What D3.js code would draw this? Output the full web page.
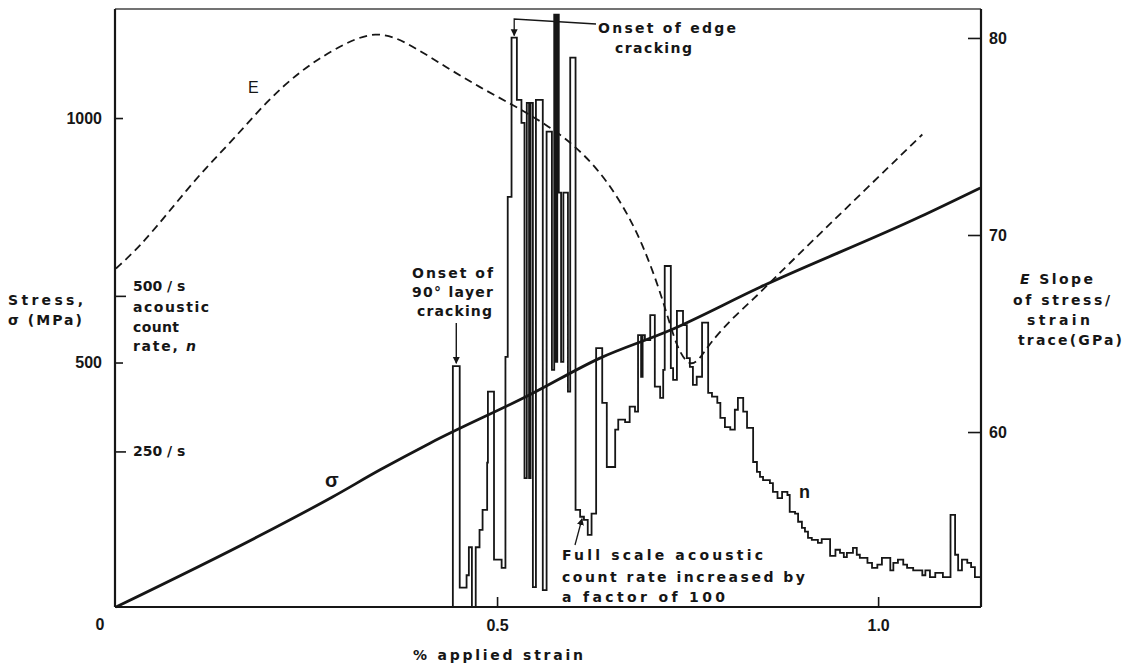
<!DOCTYPE html>
<html>
<head>
<meta charset="utf-8">
<script src="https://cdn.jsdelivr.net/npm/d3@7/dist/d3.min.js"></script>
<style>
  body { margin: 0; background: #fff; }
  svg { display: block; }
  text { font-family: "Liberation Sans", Arial, sans-serif; fill: #161616; }
  .note { font-family: "DejaVu Sans", sans-serif; font-weight: bold; font-size: 14px; }
</style>
</head>
<body>
<div id="chart"></div>
<script>
// stress / strain trace (MPa vs % strain)
const stressStrain = [0, 0.185, 0.284, 0.346, 0.412, 0.543, 0.635, 0.727, 0.845, 1.055, 1.134];
const stressValues = [0, 143, 225, 280, 335, 434, 509, 566, 654, 798, 857];

// E, slope of the stress/strain trace (GPa)
const slopeStrain = [0, 0.031, 0.070, 0.110, 0.153, 0.198, 0.241, 0.284, 0.342, 0.389, 0.434, 0.477,
  0.521, 0.565, 0.600, 0.631, 0.661, 0.691, 0.718, 0.736, 0.753, 0.766, 0.779, 0.809, 0.841, 0.871, 1.058];
const slopeValues = [68.3, 69.4, 71.2, 73.1, 74.8, 76.8, 78.3, 79.4, 80.5, 79.6, 78.5, 77.5,
  76.6, 75.6, 74.6, 73.4, 71.8, 69.6, 66.7, 64.2, 63.3, 63.7, 64.5, 65.8, 66.9, 68.1, 75.1];

// acoustic count rate n (counts/s), step histogram: bin start strain + rate
const binStart = [0.442, 0.451, 0.460, 0.463, 0.467, 0.472, 0.477, 0.481, 0.487, 0.488, 0.496, 0.506,
  0.511, 0.514, 0.519, 0.526, 0.532, 0.536, 0.539, 0.542, 0.544, 0.547, 0.551, 0.560, 0.565, 0.572,
  0.575, 0.577, 0.579, 0.581, 0.584, 0.587, 0.593, 0.596, 0.603, 0.609, 0.614, 0.619, 0.624, 0.630,
  0.638, 0.644, 0.655, 0.659, 0.668, 0.674, 0.681, 0.685, 0.689, 0.691, 0.694, 0.701, 0.707, 0.714,
  0.718, 0.720, 0.728, 0.731, 0.736, 0.744, 0.749, 0.753, 0.757, 0.762, 0.769, 0.777, 0.782, 0.789,
  0.793, 0.799, 0.806, 0.812, 0.816, 0.823, 0.828, 0.836, 0.841, 0.845, 0.849, 0.858, 0.862, 0.868,
  0.874, 0.881, 0.884, 0.891, 0.895, 0.900, 0.904, 0.908, 0.913, 0.921, 0.926, 0.937, 0.944, 0.950,
  0.955, 0.959, 0.967, 0.972, 0.976, 0.986, 0.992, 0.999, 1.005, 1.016, 1.020, 1.026, 1.033, 1.038,
  1.046, 1.058, 1.062, 1.068, 1.075, 1.085, 1.095, 1.101, 1.105, 1.110, 1.117, 1.122, 1.127];
const binRate = [387, 31, 51, 96, 0, 96, 124, 156, 232, 346, 76, 63,
  402, 659, 915, 815, 778, 207, 810, 207, 810, 32, 815, 27, 764, 381,
  952, 394, 952, 666, 394, 666, 346, 883, 156, 145, 140, 116, 150, 416,
  328, 225, 285, 301, 297, 322, 314, 437, 370, 437, 429, 469, 354, 336,
  381, 548, 384, 365, 476, 453, 400, 386, 357, 370, 457, 344, 338, 328,
  304, 289, 285, 317, 336, 314, 288, 233, 217, 209, 204, 199, 185, 175,
  185, 180, 153, 150, 137, 127, 121, 111, 108, 103, 109, 82, 92, 87,
  80, 87, 95, 84, 79, 71, 63, 68, 79, 59, 71, 76, 68, 63,
  59, 51, 59, 48, 55, 48, 148, 84, 59, 76, 71, 64, 48];
const binEnd = 1.135;

const stressTicks = [500, 1000];
const rateTicks = [250, 500];
const slopeTicks = [60, 70, 80];
const strainTicks = [0.5, 1.0];

const width = 1134, height = 666;
const plotLeft = 115, plotRight = 981, plotTop = 9, plotBottom = 607;

const svg = d3.select('#chart').append('svg')
  .attr('width', width)
  .attr('height', height);

const x = d3.scaleLinear().domain([0, 1.135]).range([116, plotRight]);
const yStress = d3.scaleLinear().domain([0, 1223]).range([plotBottom, plotTop]);
const yRate = d3.scaleLinear().domain([0, 961]).range([plotBottom, plotTop]);
const ySlope = d3.scaleLinear().domain([51.12, 81.47]).range([plotBottom, plotTop]);

const ink = '#161616';

// frame
svg.append('line').attr('x1', plotLeft).attr('x2', plotRight).attr('y1', plotTop).attr('y2', plotTop)
  .style('stroke', '#444').style('stroke-width', 1.4);
svg.append('line').attr('x1', plotLeft).attr('x2', plotLeft).attr('y1', plotTop).attr('y2', plotBottom)
  .style('stroke', ink).style('stroke-width', 2.2);
svg.append('line').attr('x1', plotRight).attr('x2', plotRight).attr('y1', plotTop).attr('y2', plotBottom)
  .style('stroke', ink).style('stroke-width', 2.2);
svg.append('line').attr('x1', plotLeft).attr('x2', plotRight).attr('y1', plotBottom).attr('y2', plotBottom)
  .style('stroke', ink).style('stroke-width', 2.2);

function styleAxis(g) {
  g.select('.domain').remove();
  g.selectAll('.tick line').style('stroke', ink).style('stroke-width', 1.6);
  g.selectAll('.tick text').style('font-size', '16px').style('fill', ink)
    .style('font-weight', 'bold')
    .style('font-family', '"Liberation Sans", Arial, sans-serif');
}

// stress axis (left)
svg.append('g').attr('transform', `translate(${plotLeft},0)`)
  .call(d3.axisLeft(yStress).tickValues(stressTicks).tickSize(-8).tickPadding(13).tickFormat(d3.format('d')))
  .call(styleAxis);

// count rate axis (left, inside)
const rateAxis = svg.append('g').attr('transform', `translate(${plotLeft},0)`)
  .call(d3.axisRight(yRate).tickValues(rateTicks).tickSize(11).tickPadding(7).tickFormat(d => d + ' / s'))
  .call(styleAxis);
rateAxis.selectAll('.tick text').attr('class', 'note').style('font-family', null).style('font-size', '14px');
rateAxis.selectAll('.tick text').filter(d => d === 500).attr('dy', '-0.35em');

// slope axis (right)
svg.append('g').attr('transform', `translate(${plotRight},0)`)
  .call(d3.axisRight(ySlope).tickValues(slopeTicks).tickSize(-13).tickPadding(8))
  .call(styleAxis);

// strain axis (bottom)
svg.append('g').attr('transform', `translate(0,${plotBottom})`)
  .call(d3.axisBottom(x).tickValues(strainTicks).tickSize(-10).tickPadding(13).tickFormat(d3.format('.1f')))
  .call(styleAxis);

svg.append('text').attr('x', 100).attr('y', 630).attr('text-anchor', 'middle')
  .style('font-size', '16px').style('font-weight', 'bold').text('0');

// count rate histogram
const steps = [[binStart[0], 0]].concat(binStart.map((s, i) => [s, binRate[i]]), [[binEnd, binRate[binRate.length - 1]]]);
svg.append('path')
  .datum(steps)
  .attr('d', d3.line().x(d => x(d[0])).y(d => yRate(d[1])).curve(d3.curveStepAfter))
  .style('fill', 'none')
  .style('stroke', ink)
  .style('stroke-width', 1.8)
  .style('stroke-linejoin', 'miter');

// stress curve
svg.append('path')
  .datum(stressStrain.map((s, i) => [s, stressValues[i]]))
  .attr('d', d3.line().x(d => x(d[0])).y(d => yStress(d[1])).curve(d3.curveMonotoneX))
  .style('fill', 'none')
  .style('stroke', ink)
  .style('stroke-width', 2.8);

// slope curve (dashed)
svg.append('path')
  .datum(slopeStrain.map((s, i) => [s, slopeValues[i]]))
  .attr('d', d3.line().x(d => x(d[0])).y(d => ySlope(d[1])).curve(d3.curveBasis))
  .style('fill', 'none')
  .style('stroke', ink)
  .style('stroke-width', 1.8)
  .style('stroke-dasharray', '8,5');

// arrow heads
svg.append('defs').append('marker')
  .attr('id', 'head').attr('viewBox', '0 0 10 10').attr('refX', 9).attr('refY', 5)
  .attr('markerWidth', 7).attr('markerHeight', 9).attr('orient', 'auto')
  .attr('markerUnits', 'userSpaceOnUse')
  .append('path').attr('d', 'M0,0L10,5L0,10z').style('fill', ink);

// onset of 90 deg layer cracking arrow
const firstPeak = x((binStart[0] + binStart[1]) / 2);
svg.append('line')
  .attr('x1', firstPeak).attr('x2', firstPeak)
  .attr('y1', 323).attr('y2', yRate(binRate[0]) - 3)
  .style('stroke', ink).style('stroke-width', 1.4)
  .attr('marker-end', 'url(#head)');

// onset of edge cracking leader
const edgePeak = x((binStart[14] + binStart[15]) / 2);
svg.append('path')
  .attr('d', `M596,24L${edgePeak},19L${edgePeak},${yRate(binRate[14]) - 2}`)
  .style('fill', 'none').style('stroke', ink).style('stroke-width', 1.3)
  .attr('marker-end', 'url(#head)');

// full scale leader
const fsX = x((binStart[35] + binStart[36]) / 2);
svg.append('line')
  .attr('x1', 575).attr('y1', 545).attr('x2', fsX).attr('y2', yRate(binRate[35]) + 2)
  .style('stroke', ink).style('stroke-width', 1.3)
  .attr('marker-end', 'url(#head)');

// text notes
function note(txt, px, py, len, anchor) {
  const t = svg.append('text').attr('class', 'note')
    .attr('x', px).attr('y', py)
    .attr('text-anchor', anchor || 'start');
  if (len) t.attr('textLength', len).attr('lengthAdjust', 'spacing');
  txt.forEach(part => {
    t.append('tspan').style('font-style', part.i ? 'italic' : null).text(part.t);
  });
  return t;
}
const P = s => [{ t: s }];

note(P('Onset  of  edge'), 598, 33, 138);
note(P('cracking'), 615, 53, 77);
note(P('Onset  of'), 412, 278, 81);
note(P('90° layer'), 412, 297, 81);
note(P('cracking'), 417, 316, 75);

note(P('Stress,'), 8, 305, 75);
note(P('σ (MPa)'), 8, 325, 74);
note(P('acoustic'), 133, 312, 76);
note(P('count'), 133, 332, 46);
note([{ t: 'rate, ' }, { t: 'n', i: true }], 133, 351, 63);

note(P('Full  scale  acoustic'), 562, 560, 201);
note(P('count  rate  increased  by'), 562, 582, 243);
note(P('a  factor  of  100'), 562, 602, 163);

note([{ t: 'E', i: true }, { t: ' Slope' }], 1020, 284, 73);
note(P('of stress/'), 1013, 305, 97);
note(P('strain'), 1027, 325, 63);
note(P('trace(GPa)'), 1018, 345, 104);

note(P('% applied strain'), 413, 660, 170);

svg.append('text').attr('x', 248).attr('y', 93).style('font-size', '16px').text('E');
svg.append('text').attr('x', 325).attr('y', 487).style('font-size', '20px').style('font-weight', 'bold').text('σ');
svg.append('text').attr('x', 799).attr('y', 498).style('font-size', '18px').style('font-weight', 'bold').text('n');
</script>
</body>
</html>
